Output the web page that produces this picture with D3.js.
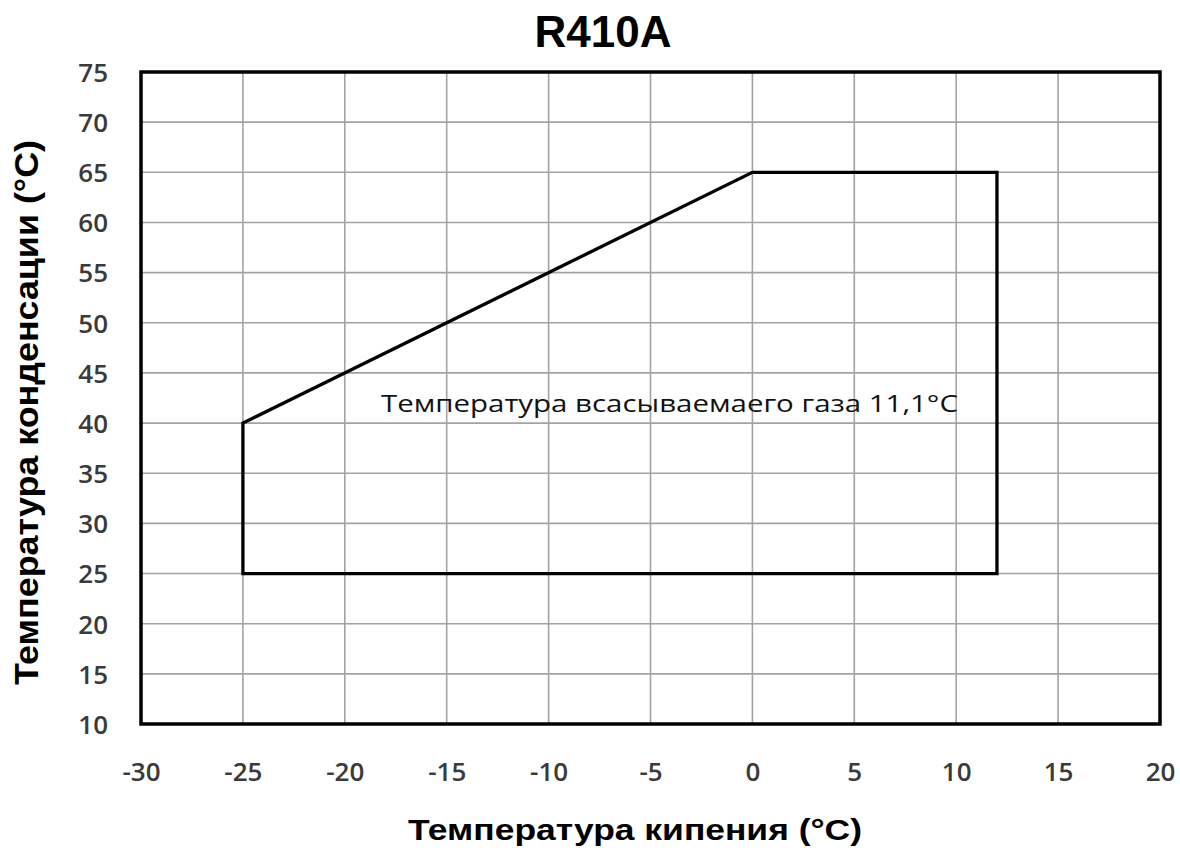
<!DOCTYPE html>
<html><head><meta charset="utf-8">
<script src="https://cdn.jsdelivr.net/npm/d3@7"></script>
<style>body{margin:0;background:#fff;}svg{display:block;}</style>
</head><body>
<svg id="c" width="1180" height="854"></svg>
<script>
const title = "R410A";
const xLabel = "Температура кипения (°C)";
const yLabel = "Температура конденсации (°C)";
const note = "Температура всасываемаего газа 11,1°C";
const xTicks = [-30,-25,-20,-15,-10,-5,0,5,10,15,20];
const yTicks = [10,15,20,25,30,35,40,45,50,55,60,65,70,75];
const envelopeX = [-25,-25,0,12,12];
const envelopeY = [25,40,65,65,25];

const svg = d3.select("#c");
const m = {l:141,r:1160,t:72,b:724};
const x = d3.scaleLinear().domain([-30,20]).range([m.l,m.r]);
const y = d3.scaleLinear().domain([10,75]).range([m.b,m.t]);

// grid
svg.append("g").selectAll("line").data(xTicks).join("line")
  .attr("x1",d=>x(d)).attr("x2",d=>x(d)).attr("y1",m.t).attr("y2",m.b)
  .attr("stroke","#a3a3a3").attr("stroke-width",1.6);
svg.append("g").selectAll("line").data(yTicks).join("line")
  .attr("y1",d=>y(d)).attr("y2",d=>y(d)).attr("x1",m.l).attr("x2",m.r)
  .attr("stroke","#a3a3a3").attr("stroke-width",1.6);

// axes
const xa = svg.append("g").attr("transform",`translate(0,${m.b})`)
  .call(d3.axisBottom(x).tickValues(xTicks).tickSize(0).tickFormat(d=>d));
const ya = svg.append("g").attr("transform",`translate(${m.l},0)`)
  .call(d3.axisLeft(y).tickValues(yTicks).tickSize(0).tickPadding(33).tickFormat(d=>d));
[xa,ya].forEach(a=>{a.select(".domain").remove();
  a.selectAll("text").attr("font-family","'Open Sans', sans-serif").attr("font-size",26)
   .attr("font-weight",600).attr("fill","#3a3a3a");});
xa.selectAll("text").attr("y",57).attr("dy","0");
ya.selectAll("text").attr("dy","0.36em");

// frame
svg.append("rect").attr("x",m.l).attr("y",m.t).attr("width",m.r-m.l).attr("height",m.b-m.t)
  .attr("fill","none").attr("stroke","#000").attr("stroke-width",3.5);

// note
svg.append("text").attr("x",381).attr("y",412)
  .attr("font-family","'Open Sans', sans-serif").attr("font-size",24).attr("fill","#111")
  .attr("textLength",577).attr("lengthAdjust","spacingAndGlyphs").text(note);

// envelope
const pts = envelopeX.map((v,i)=>[x(v),y(envelopeY[i])]);
svg.append("path").attr("d",d3.line()(pts)+"Z").attr("fill","none")
  .attr("stroke","#000").attr("stroke-width",3.3).attr("stroke-linejoin","miter");

// titles
svg.append("text").attr("x",603).attr("y",47).attr("text-anchor","middle")
  .attr("font-family","'Liberation Sans', Arial, sans-serif").attr("font-weight","bold").attr("font-size",45)
  .attr("textLength",137).attr("lengthAdjust","spacingAndGlyphs").text(title);
svg.append("text").attr("x",635).attr("y",840).attr("text-anchor","middle")
  .attr("font-family","'Liberation Sans', Arial, sans-serif").attr("font-weight","bold").attr("font-size",29)
  .attr("textLength",454).attr("lengthAdjust","spacingAndGlyphs").text(xLabel);
svg.append("text").attr("transform","translate(38,412.5) rotate(-90)").attr("text-anchor","middle")
  .attr("font-family","'Liberation Sans', Arial, sans-serif").attr("font-weight","bold").attr("font-size",34)
  .attr("textLength",545).attr("lengthAdjust","spacingAndGlyphs").text(yLabel);
</script>
</body></html>
